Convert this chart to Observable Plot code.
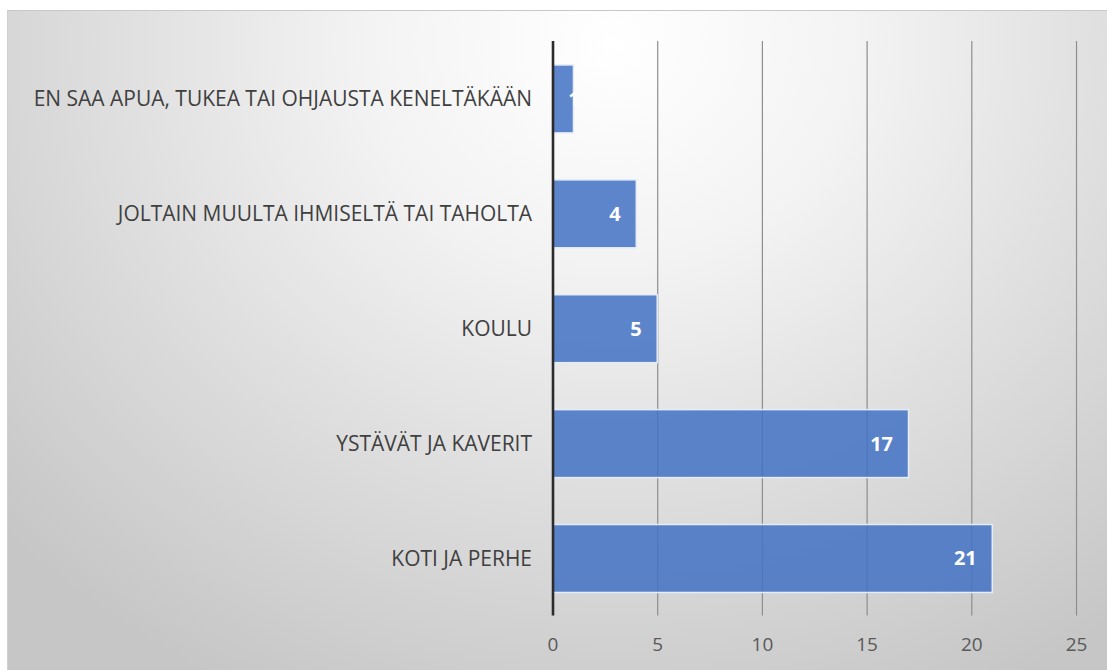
<!DOCTYPE html>
<html>
<head>
<meta charset="utf-8">
<script src="https://cdn.jsdelivr.net/npm/d3@7"></script>
<script src="https://cdn.jsdelivr.net/npm/@observablehq/plot@0.6"></script>
<style>
  html, body { margin: 0; padding: 0; background: #ffffff; }
  #frame {
    position: absolute; left: 7px; top: 10px; width: 1100px; height: 660px;
    background: radial-gradient(ellipse 75% 110% at 55% 5%, #ffffff 0%, #f3f3f3 30%, #dcdcdc 65%, #c6c6c6 100%);
    border-top: 1px solid #c8c8c8; border-left: 1px solid #cfcfcf;
    box-sizing: border-box;
  }
  #frame svg { position: absolute; left: 0; top: 0; background: transparent; }
</style>
</head>
<body>
<div id="frame"></div>
<script>
const categories = [
  "EN SAA APUA, TUKEA TAI OHJAUSTA KENELTÄKÄÄN",
  "JOLTAIN MUULTA IHMISELTÄ TAI TAHOLTA",
  "KOULU",
  "YSTÄVÄT JA KAVERIT",
  "KOTI JA PERHE"
];
const values = [1, 4, 5, 17, 21];
const xTicks = [0, 5, 10, 15, 20, 25];

const data = categories.map((c, i) => ({category: c, value: values[i]}));
const fits = data.filter(d => d.value >= 3);
const tight = data.filter(d => d.value < 3);

const chart = Plot.plot({
  width: 1100,
  height: 660,
  marginLeft: 545,
  marginRight: 31,
  marginTop: 30,
  marginBottom: 55,
  style: {background: "transparent", fontFamily: "'Open Sans', Lato, sans-serif"},
  x: {domain: [0, 25], ticks: xTicks, label: null},
  y: {domain: categories, paddingInner: 0.41, paddingOuter: 0.205, label: null},
  marks: [
    Plot.ruleX(xTicks.filter(t => t > 0), {stroke: "#8e8e8e", strokeWidth: 1.2}),
    Plot.barX(data, {x: "value", y: "category", fill: "#4472c4", fillOpacity: 0.86, stroke: "#e4ecf7", strokeWidth: 1.5}),
    Plot.ruleX([0], {stroke: "#2b2b2b", strokeWidth: 2.6}),
    Plot.text(fits, {x: "value", y: "category", text: d => String(d.value), textAnchor: "end", dx: -16, fill: "white", fontWeight: "bold", fontSize: 20}),
    Plot.text(tight, {x: "value", y: "category", text: d => String(d.value), textAnchor: "middle", dx: 0, fill: "white", fontWeight: "bold", fontSize: 20}),
    Plot.axisX({ticks: xTicks, tickSize: 0, tickPadding: 22, fontSize: 19, color: "#595959", label: null}),
    Plot.axisY({tickSize: 0, tickPadding: 21, fontSize: 21, color: "#404040", label: null})
  ]
});
document.getElementById("frame").appendChild(chart);
</script>
</body>
</html>
